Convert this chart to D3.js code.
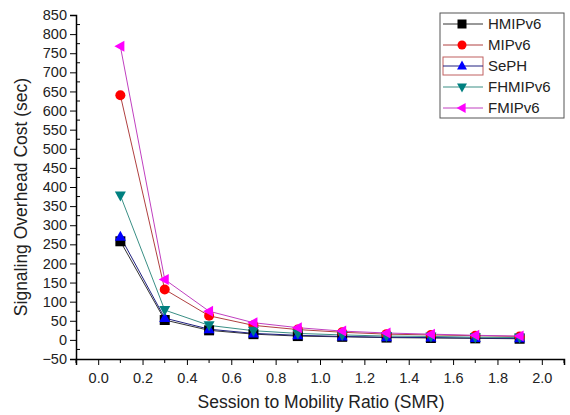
<!DOCTYPE html>
<html>
<head>
<meta charset="utf-8">
<script src="https://cdn.jsdelivr.net/npm/d3@7"></script>
<style>
  body { margin: 0; background: #fff; }
  svg { font-family: "Liberation Sans", Arial, sans-serif; }
</style>
</head>
<body>
<div id="chart"></div>
<script>
const smr = [0.1, 0.3, 0.5, 0.7, 0.9, 1.1, 1.3, 1.5, 1.7, 1.9];
const hmipv6 = [258, 52, 25, 15, 10, 8, 6, 5, 4, 3];
const mipv6 = [640, 132, 63, 38, 27, 20, 15, 13, 11, 9];
const seph = [270, 57, 28, 17, 12, 9, 7, 6, 5, 4];
const fhmipv6 = [378, 78, 38, 24, 17, 13, 10, 9, 7, 6];
const fmipv6 = [768, 158, 75, 45, 32, 23, 18, 15, 12, 10];
const xTicks = [0.0, 0.2, 0.4, 0.6, 0.8, 1.0, 1.2, 1.4, 1.6, 1.8, 2.0];
const yTicks = d3.range(-50, 851, 50);

const series = [
  { name: 'HMIPv6', values: hmipv6, line: '#333333', fill: '#000000', symbol: 'square' },
  { name: 'MIPv6', values: mipv6, line: '#b04040', fill: '#ff0000', symbol: 'circle' },
  { name: 'SePH', values: seph, line: '#202080', fill: '#0000ff', symbol: 'up' },
  { name: 'FHMIPv6', values: fhmipv6, line: '#3a8f85', fill: '#008080', symbol: 'down' },
  { name: 'FMIPv6', values: fmipv6, line: '#c040c0', fill: '#ff00ff', symbol: 'left' }
];

const width = 570, height = 415;
const margin = { left: 76, right: 6, top: 15, bottom: 56 };

const svg = d3.select('#chart').append('svg')
  .attr('width', width)
  .attr('height', height);

const x = d3.scaleLinear().domain([-0.1, 2.1]).range([margin.left, width - margin.right]);
const y = d3.scaleLinear().domain([-50, 850]).range([height - margin.bottom, margin.top]);

function markerPath(sym, s) {
  switch (sym) {
    case 'square': return `M${-s},${-s}H${s}V${s}H${-s}Z`;
    case 'circle': return `M${-s},0A${s},${s} 0 1,0 ${s},0A${s},${s} 0 1,0 ${-s},0Z`;
    case 'up': return `M0,${-s * 1.2}L${s * 1.1},${s * 0.8}L${-s * 1.1},${s * 0.8}Z`;
    case 'down': return `M0,${s * 1.2}L${s * 1.1},${-s * 0.8}L${-s * 1.1},${-s * 0.8}Z`;
    case 'left': return `M${-s * 1.2},0L${s * 0.8},${-s * 1.1}L${s * 0.8},${s * 1.1}Z`;
  }
}

// axes
const xAxis = svg.append('g')
  .attr('transform', `translate(0,${y(-50)})`)
  .call(d3.axisBottom(x).tickValues(xTicks).tickFormat(d3.format('.1f')).tickSizeOuter(0).tickSize(6));
xAxis.select('.domain').attr('stroke', '#000').attr('stroke-width', 1.5);
xAxis.selectAll('text').attr('font-size', 14.5).attr('dy', '1.05em').attr('fill', '#222');

svg.append('g')
  .attr('transform', `translate(0,${y(-50)})`)
  .selectAll('line')
  .data(d3.range(-0.1, 2.15, 0.2))
  .join('line')
  .attr('x1', d => x(d)).attr('x2', d => x(d))
  .attr('y1', 0).attr('y2', 4)
  .attr('stroke', '#000');

const yAxis = svg.append('g')
  .attr('transform', `translate(${margin.left},0)`)
  .call(d3.axisLeft(y).tickValues(yTicks).tickSizeOuter(0).tickSize(6));
yAxis.select('.domain').attr('stroke', '#000').attr('stroke-width', 1.5);
yAxis.selectAll('text').attr('font-size', 14.5).attr('fill', '#222');

svg.append('g')
  .attr('transform', `translate(${margin.left},0)`)
  .selectAll('line')
  .data(d3.range(-25, 851, 50))
  .join('line')
  .attr('x1', 0).attr('x2', 4)
  .attr('y1', d => y(d)).attr('y2', d => y(d))
  .attr('stroke', '#000');

// axis titles
svg.append('text')
  .attr('x', 321)
  .attr('y', 408)
  .attr('text-anchor', 'middle')
  .attr('font-size', 17.5)
  .attr('fill', '#222')
  .text('Session to Mobility Ratio (SMR)');

svg.append('text')
  .attr('transform', `translate(27,${(y(-50) + y(850)) / 2 + 10}) rotate(-90)`)
  .attr('text-anchor', 'middle')
  .attr('font-size', 17.5)
  .attr('fill', '#222')
  .text('Signaling Overhead Cost (sec)');

// lines and markers
const line = d3.line().x((d, i) => x(smr[i])).y(d => y(d));

series.forEach(s => {
  svg.append('path')
    .datum(s.values)
    .attr('fill', 'none')
    .attr('stroke', s.line)
    .attr('stroke-width', 1)
    .attr('d', line);
});

series.forEach(s => {
  svg.append('g')
    .selectAll('path')
    .data(s.values)
    .join('path')
    .attr('transform', (d, i) => `translate(${x(smr[i])},${y(d)})`)
    .attr('d', markerPath(s.symbol, 5))
    .attr('fill', s.fill);
});

// legend
const legend = svg.append('g').attr('transform', 'translate(440,13)');
legend.append('rect')
  .attr('width', 124).attr('height', 105)
  .attr('fill', '#fff')
  .attr('stroke', '#555');

series.forEach((s, i) => {
  const ly = 11 + i * 21;
  const g = legend.append('g').attr('transform', `translate(0,${ly})`);
  if (s.name === 'SePH') {
    g.append('rect')
      .attr('x', 3).attr('y', -9).attr('width', 40).attr('height', 18)
      .attr('fill', 'none').attr('stroke', '#c06060');
  }
  g.append('line')
    .attr('x1', 3).attr('x2', 43)
    .attr('stroke', s.line);
  g.append('path')
    .attr('transform', 'translate(22,0)')
    .attr('d', markerPath(s.symbol, 4.5))
    .attr('fill', s.fill);
  g.append('text')
    .attr('x', 48).attr('y', 0)
    .attr('dy', '0.35em')
    .attr('font-size', 15)
    .attr('fill', '#222')
    .text(s.name);
});
</script>
</body>
</html>
